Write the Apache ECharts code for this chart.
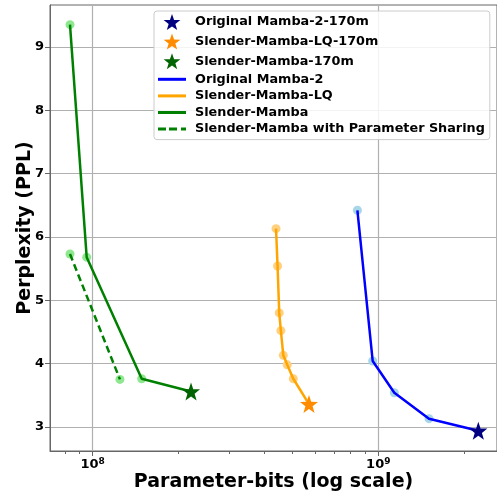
<!DOCTYPE html>
<html>
<head>
<meta charset="utf-8">
<script src="https://cdn.jsdelivr.net/npm/echarts@6/dist/echarts.min.js"></script>
<style>
  html, body { margin: 0; padding: 0; background: #fff; }
  #chart { width: 497px; height: 492px; }
</style>
</head>
<body>
<div id="chart"></div>
<script>
// values (parameter-bits, perplexity)
const mamba2Bits = [8.45e8, 9.56e8, 1.138e9, 1.505e9];
const mamba2Ppl = [6.42, 4.04, 3.54, 3.13];
const mamba2Star = [2.24e9, 2.94];

const lqBits = [4.385e8, 4.44e8, 4.50e8, 4.56e8, 4.65e8, 4.80e8, 5.04e8];
const lqPpl = [6.13, 5.54, 4.80, 4.52, 4.13, 3.98, 3.76];
const lqStar = [5.72e8, 3.36];

const slenderBits = [8.33e7, 9.53e7, 1.485e8];
const slenderPpl = [9.35, 5.68, 3.76];
const slenderStar = [2.21e8, 3.56];

const sharedBits = [8.33e7, 1.246e8];
const sharedPpl = [5.73, 3.75];

const xMajorTicks = [1e8, 1e9];
const xMinorTicks = [8e7, 9e7, 2e8, 3e8, 4e8, 5e8, 6e8, 7e8, 8e8, 9e8, 2e9];
const yTicks = [3, 4, 5, 6, 7, 8, 9];

const FONT = 'DejaVu Sans';

// 5 pointed star like matplotlib '*'
function starPath() {
    let d = '';
    for (let i = 0; i < 10; i++) {
        const r = i % 2 === 0 ? 50 : 20;
        const a = (-90 + i * 36) * Math.PI / 180;
        const x = (50 + r * Math.cos(a)).toFixed(2);
        const y = (50 + r * Math.sin(a)).toFixed(2);
        d += (i === 0 ? 'M' : 'L') + x + ',' + y;
    }
    return 'path://' + d + 'Z';
}
const STAR = starPath();
const SOLID_ICON = 'path://M0,0H28V3H0Z';
const DASH_ICON = 'path://M0,0H8V3H0Z M11,0H19V3H11Z M23,0H28V3H23Z';

const zip = (xs, ys) => xs.map((x, i) => [x, ys[i]]);

const chart = echarts.init(document.getElementById('chart'), null, { renderer: 'canvas' });

function dots(xs, ys, color) {
    return {
        type: 'scatter', xAxisIndex: 0, data: zip(xs, ys),
        symbol: 'circle', symbolSize: 9, z: 2, silent: true,
        itemStyle: { color: color, opacity: 1 }
    };
}
function line(name, pts, color, dash) {
    return {
        name: name, type: 'line', xAxisIndex: 0, data: pts,
        showSymbol: false, symbol: 'none', z: 3, silent: true,
        lineStyle: { color: color, width: 2.5, type: dash ? [7, 4] : 'solid' },
        itemStyle: { color: color }
    };
}
function star(name, pt, color) {
    return {
        name: name, type: 'scatter', xAxisIndex: 0, data: [pt],
        symbol: STAR, symbolSize: 18, z: 4, silent: true,
        itemStyle: { color: color, opacity: 1 }
    };
}

chart.setOption({
    animation: false,
    textStyle: { fontFamily: FONT },
    grid: {
        left: 50, top: 5, right: 0, bottom: 41, outerBoundsMode: 'none', containLabel: false,
        show: true, borderColor: '#666', borderWidth: 1
    },
    legend: {
        orient: 'vertical', left: 154, top: 11,
        itemWidth: 28, itemHeight: 16, itemGap: 3.6,
        padding: [3, 5, 4, 4],
        backgroundColor: 'rgba(255,255,255,0.85)', borderColor: '#ccc', borderWidth: 1, borderRadius: 3,
        textStyle: { fontFamily: FONT, fontWeight: 'bold', fontSize: 12.8, color: '#000', padding: [0, 0, 0, 4] },
        data: [
            { name: 'Original Mamba-2-170m' },
            { name: 'Slender-Mamba-LQ-170m' },
            { name: 'Slender-Mamba-170m' },
            { name: 'Original Mamba-2', icon: SOLID_ICON },
            { name: 'Slender-Mamba-LQ', icon: SOLID_ICON },
            { name: 'Slender-Mamba', icon: SOLID_ICON },
            { name: 'Slender-Mamba with Parameter Sharing', icon: DASH_ICON }
        ]
    },
    xAxis: [{
        type: 'log', logBase: 10, min: 7.09e7, max: 2.604e9,
        name: 'Parameter-bits (log scale)', nameLocation: 'middle', nameGap: 22, nameMoveOverlap: false,
        nameTextStyle: { fontFamily: FONT, fontWeight: 'bold', fontSize: 19, color: '#000', verticalAlign: 'top' },
        axisLine: { show: true, lineStyle: { color: '#666' } },
        axisTick: { show: true, inside: false, length: 5, customValues: xMajorTicks, lineStyle: { color: '#666' } },
        axisLabel: {
            customValues: xMajorTicks, margin: 6,
            formatter: v => '{b|10}{s|' + Math.round(Math.log10(v)) + '}',
            rich: {
                b: { fontFamily: FONT, fontWeight: 'bold', fontSize: 13, color: '#000' },
                s: { fontFamily: FONT, fontWeight: 'bold', fontSize: 9, color: '#000', verticalAlign: 'top', padding: [0, 0, 6, 0] }
            }
        },
        splitLine: { show: true, lineStyle: { color: '#b0b0b0', width: 1.2 } }
    }, {
        type: 'log', logBase: 10, min: 7.09e7, max: 2.604e9, position: 'bottom',
        axisLine: { show: false },
        axisTick: { show: true, length: 3, customValues: xMinorTicks, lineStyle: { color: '#666' } },
        axisLabel: { show: false },
        splitLine: { show: false }
    }],
    yAxis: {
        type: 'value', min: 2.62, max: 9.66,
        name: 'Perplexity (PPL)', nameLocation: 'middle', nameGap: 15, nameRotate: 90, nameMoveOverlap: false,
        nameTextStyle: { fontFamily: FONT, fontWeight: 'bold', fontSize: 19, color: '#000', verticalAlign: 'bottom' },
        axisLine: { show: true, lineStyle: { color: '#666' } },
        axisTick: { show: true, length: 5, customValues: yTicks, lineStyle: { color: '#666' } },
        axisLabel: { customValues: yTicks, margin: 6, fontFamily: FONT, fontWeight: 'bold', fontSize: 13, color: '#000' },
        splitLine: { show: true, lineStyle: { color: '#b0b0b0', width: 1.2 } }
    },
    series: [
        star('Original Mamba-2-170m', mamba2Star, '#000080'),
        star('Slender-Mamba-LQ-170m', lqStar, '#FF8C00'),
        star('Slender-Mamba-170m', slenderStar, '#006400'),
        line('Original Mamba-2', zip(mamba2Bits, mamba2Ppl).concat([mamba2Star]), '#0000FF', false),
        line('Slender-Mamba-LQ', zip(lqBits, lqPpl).concat([lqStar]), '#FFA500', false),
        line('Slender-Mamba', zip(slenderBits, slenderPpl).concat([slenderStar]), '#008000', false),
        line('Slender-Mamba with Parameter Sharing', zip(sharedBits, sharedPpl), '#008000', true),
        dots(mamba2Bits, mamba2Ppl, '#a6d6e8'),
        dots(lqBits, lqPpl, '#ffd07f'),
        dots(slenderBits, slenderPpl, '#8fe88f'),
        dots(sharedBits, sharedPpl, '#8fe88f')
    ]
});
</script>
</body>
</html>
